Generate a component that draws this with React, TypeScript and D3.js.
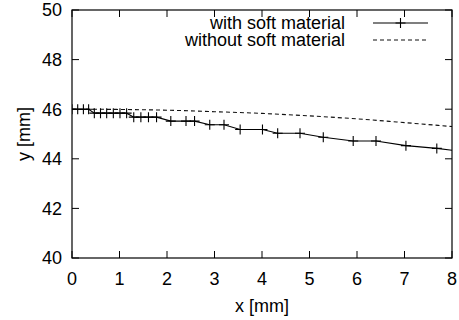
import React, { useEffect, useRef } from 'react';
import * as d3 from 'd3';

// measured profile with soft material (x, y in mm)
const withSoftX = [0, 0.12, 0.24, 0.35, 0.47, 0.6, 0.73, 0.87, 1.01, 1.15, 1.3, 1.45, 1.61, 1.78, 2.08, 2.4, 2.58, 2.9, 3.2, 3.54, 4.01, 4.33, 4.8, 5.29, 5.92, 6.4, 7.03, 7.68, 8.3];
const withSoftY = [46.0, 46.0, 46.0, 46.0, 45.84, 45.84, 45.84, 45.84, 45.84, 45.84, 45.68, 45.68, 45.68, 45.68, 45.52, 45.52, 45.52, 45.37, 45.37, 45.18, 45.18, 45.03, 45.03, 44.87, 44.72, 44.72, 44.53, 44.42, 44.27];

// profile without soft material
const withoutSoftX = [0, 1, 2, 3, 4, 5, 6, 7, 8];
const withoutSoftY = [46.0, 45.99, 45.96, 45.9, 45.83, 45.73, 45.61, 45.46, 45.3];

const xTicks = [0, 1, 2, 3, 4, 5, 6, 7, 8];
const yTicks = [40, 42, 44, 46, 48, 50];
const seriesNames = ['with soft material', 'without soft material'];

const App: React.FC = () => {
  const ref = useRef<SVGSVGElement | null>(null);

  useEffect(() => {
    const W = 459;
    const H = 320;
    const margin = { top: 10, right: 7, bottom: 62, left: 72 };
    const width = W - margin.left - margin.right;
    const height = H - margin.top - margin.bottom;
    const font = '"Liberation Sans", Arial, Helvetica, sans-serif';
    const fs = 18;
    const tickLen = 7;

    const svg = d3.select(ref.current);
    svg.selectAll('*').remove();
    svg.attr('width', W).attr('height', H);

    svg.append('rect').attr('width', W).attr('height', H).attr('fill', 'white');

    const g = svg.append('g').attr('transform', `translate(${margin.left},${margin.top})`);

    const x = d3.scaleLinear().domain([0, 8]).range([0, width]);
    const y = d3.scaleLinear().domain([40, 50]).range([height, 0]);

    // ticks, mirrored on all four sides, pointing inward
    xTicks.forEach(t => {
      g.append('line').attr('x1', x(t)).attr('x2', x(t)).attr('y1', height).attr('y2', height - tickLen)
        .attr('stroke', '#000').attr('stroke-width', 1);
      g.append('line').attr('x1', x(t)).attr('x2', x(t)).attr('y1', 0).attr('y2', tickLen)
        .attr('stroke', '#000').attr('stroke-width', 1);
      g.append('text')
        .attr('x', x(t))
        .attr('y', height + 27)
        .attr('text-anchor', 'middle')
        .style('font-family', font)
        .style('font-size', `${fs}px`)
        .style('fill', '#000')
        .text(String(t));
    });

    yTicks.forEach(t => {
      g.append('line').attr('x1', 0).attr('x2', tickLen).attr('y1', y(t)).attr('y2', y(t))
        .attr('stroke', '#000').attr('stroke-width', 1);
      g.append('line').attr('x1', width).attr('x2', width - tickLen).attr('y1', y(t)).attr('y2', y(t))
        .attr('stroke', '#000').attr('stroke-width', 1);
      g.append('text')
        .attr('x', -10)
        .attr('y', y(t))
        .attr('dy', '0.36em')
        .attr('text-anchor', 'end')
        .style('font-family', font)
        .style('font-size', `${fs}px`)
        .style('fill', '#000')
        .text(String(t));
    });

    // axis titles
    g.append('text')
      .attr('x', width / 2)
      .attr('y', height + 54)
      .attr('text-anchor', 'middle')
      .style('font-family', font)
      .style('font-size', `${fs}px`)
      .style('fill', '#000')
      .text('x [mm]');

    g.append('text')
      .attr('transform', 'rotate(-90)')
      .attr('x', -height / 2)
      .attr('y', -margin.left + 30)
      .attr('text-anchor', 'middle')
      .style('font-family', font)
      .style('font-size', `${fs}px`)
      .style('fill', '#000')
      .text('y [mm]');

    // clip for data
    svg.append('defs').append('clipPath').attr('id', 'plotclip')
      .append('rect').attr('width', width).attr('height', height);

    const data = g.append('g').attr('clip-path', 'url(#plotclip)');

    const line = d3.line<[number, number]>().x(d => x(d[0])).y(d => y(d[1]));

    const withoutPts = withoutSoftX.map((v, i) => [v, withoutSoftY[i]] as [number, number]);
    const withPts = withSoftX.map((v, i) => [v, withSoftY[i]] as [number, number]);

    data.append('path')
      .attr('d', d3.line<[number, number]>().x(d => x(d[0])).y(d => y(d[1])).curve(d3.curveMonotoneX)(withoutPts) as string)
      .attr('fill', 'none')
      .attr('stroke', '#111')
      .attr('stroke-width', 1.1)
      .attr('stroke-dasharray', '4,3');

    data.append('path')
      .attr('d', line(withPts) as string)
      .attr('fill', 'none')
      .attr('stroke', '#000')
      .attr('stroke-width', 1.1);

    const cross = (sel: d3.Selection<SVGGElement, unknown, null, undefined>, cx: number, cy: number) => {
      sel.append('path')
        .attr('d', `M${cx - 5},${cy}H${cx + 5}M${cx},${cy - 5}V${cy + 5}`)
        .attr('stroke', '#000')
        .attr('stroke-width', 1.1)
        .attr('fill', 'none');
    };

    withPts.forEach(d => cross(data, x(d[0]), y(d[1])));

    // frame
    g.append('rect')
      .attr('width', width)
      .attr('height', height)
      .attr('fill', 'none')
      .attr('stroke', '#000')
      .attr('stroke-width', 1.2);

    // legend
    const legend = svg.append('g');
    const rows = [23, 40];
    seriesNames.forEach((name, i) => {
      legend.append('text')
        .attr('x', 345)
        .attr('y', rows[i])
        .attr('dy', '0.36em')
        .attr('text-anchor', 'end')
        .style('font-family', font)
        .style('font-size', `${fs}px`)
        .style('fill', '#000')
        .text(name);
      const sample = legend.append('line')
        .attr('x1', 373).attr('x2', 428)
        .attr('y1', rows[i]).attr('y2', rows[i])
        .attr('stroke', i === 0 ? '#000' : '#111')
        .attr('stroke-width', 1.1);
      if (i === 1) sample.attr('stroke-dasharray', '4,3');
      else cross(legend, 400.5, rows[i]);
    });
  }, []);

  return (
    <svg ref={ref} style={{ position: 'absolute', left: 0, top: 0, display: 'block' }}></svg>
  );
};

export default App;
